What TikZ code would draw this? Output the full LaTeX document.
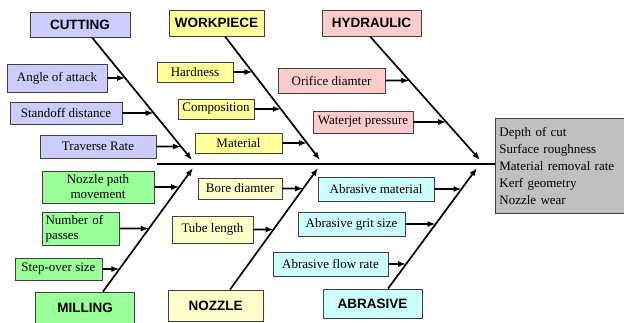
\documentclass[tikz,border=0pt]{standalone}
\usepackage{fontspec}
\setmainfont{Liberation Serif}
\newfontfamily\headfont{Liberation Sans}
\usepackage{xcolor}
\usetikzlibrary{shapes,arrows,arrows.meta,fit,positioning}

\definecolor{cutblue}{HTML}{CCCCFF}
\definecolor{wpyellow}{HTML}{FFFF99}
\definecolor{hydpink}{HTML}{FFCCCC}
\definecolor{milgreen}{HTML}{99FF99}
\definecolor{nozcream}{HTML}{FFFFCC}
\definecolor{abrcyan}{HTML}{CCFFFF}
\definecolor{resgray}{HTML}{C0C0C0}

\begin{document}
\begin{tikzpicture}[x=1pt, y=-1pt,
    % Styles for the fishbone diagram
    cause/.style={rectangle, draw=black!75, line width=0.8pt, font=\headfont\bfseries\fontsize{13.5}{15}\selectfont, minimum width=99pt, minimum height=26pt},
    factor/.style={rectangle, draw=black!75, line width=0.8pt, font=\fontsize{13}{15}\selectfont, inner sep=3pt, minimum height=22pt},
    result/.style={rectangle, draw=black!75, line width=0.8pt, fill=resgray, font=\fontsize{13}{17}\selectfont, text width=126pt, align=left, inner sep=4pt, minimum height=95pt},
    spine/.style={draw, line width=2pt},
    bone/.style={draw, -{Latex[length=8pt,width=6pt]}, line width=1.7pt},
    line/.style={draw, -{Latex[length=8pt,width=6pt]}, line width=1.7pt}]

    \useasboundingbox (0,0) rectangle (624,322);

    % Node: Effect (output quantities)
    \node [result, anchor=west] (result) at (495,166) {Depth of cut\\Surface roughness\\Material removal rate\\Kerf geometry\\Nozzle wear};

    % Spine
    \coordinate (tail) at (157,164);
    \path [spine] (tail) -- (tail -| result.west);

    % Nodes: main causes
    \node [cause, fill=cutblue, minimum width=100pt, minimum height=25pt] (cutting) at (80,24.5) {CUTTING};
    \node [cause, fill=wpyellow, minimum width=95pt] (workpiece) at (216.5,23) {WORKPIECE};
    \node [cause, fill=hydpink] (hydraulic) at (371.5,23) {HYDRAULIC};
    \node [cause, fill=milgreen, minimum height=31pt] (milling) at (85,307.5) {MILLING};
    \node [cause, fill=nozcream, minimum width=95pt, minimum height=31pt] (nozzle) at (215.5,305.5) {NOZZLE};
    \node [cause, fill=abrcyan, minimum height=29pt] (abrasive) at (372.5,303.5) {ABRASIVE};

    % Bones: start under each cause, end at the spine
    \coordinate (cutTop) at ([xshift=12pt]cutting.south);
    \coordinate (wpTop) at ([xshift=8.5pt]workpiece.south);
    \coordinate (hydTop) at ([xshift=-1.5pt]hydraulic.south);
    \coordinate (milTop) at ([xshift=18pt]milling.north);
    \coordinate (nozTop) at ([xshift=14.5pt]nozzle.north);
    \coordinate (abrTop) at ([xshift=15.5pt]abrasive.north);
    \coordinate (cutTip) at (192,160);
    \coordinate (wpTip) at (320,160);
    \coordinate (hydTip) at (480,160);
    \coordinate (milTip) at (193,168);
    \coordinate (nozTip) at (318,168);
    \coordinate (abrTip) at (477,168);
    \foreach \b in {cut, wp, hyd, mil, noz, abr}
        \path [bone] (\b Top) -- (\b Tip);

    % Nodes: cutting factors
    \node [factor, fill=cutblue, minimum width=100pt, minimum height=28pt] (angle) at (57,78) {Angle of attack};
    \node [factor, fill=cutblue, minimum width=112pt] (standoff) at (66,113) {Standoff distance};
    \node [factor, fill=cutblue, minimum width=116pt, minimum height=23pt] (traverse) at (98,146.5) {Traverse Rate};

    % Nodes: milling factors
    \node [factor, fill=milgreen, minimum width=112pt, minimum height=32pt, align=center] (nozpath) at (98,187) {Nozzle path\\movement};
    \node [factor, fill=milgreen, text width=71pt, minimum height=33pt, align=left] (passes) at (81,228.5) {Number of\\passes};
    \node [factor, fill=milgreen, minimum width=87pt] (stepover) at (58.5,269) {Step-over size};

    % Nodes: workpiece factors
    \node [factor, fill=wpyellow, minimum width=76pt, minimum height=20pt] (hardness) at (195,72) {Hardness};
    \node [factor, fill=wpyellow, minimum width=76pt, minimum height=20pt] (composition) at (216,109) {Composition};
    \node [factor, fill=wpyellow, minimum width=87pt, minimum height=20pt] (material) at (238.5,143) {Material};

    % Nodes: nozzle factors
    \node [factor, fill=nozcream, minimum width=84pt, minimum height=21pt] (bore) at (240,188.5) {Bore diamter};
    \node [factor, fill=nozcream, minimum width=81pt, minimum height=27pt] (tube) at (212.5,229.5) {Tube length};

    % Nodes: hydraulic factors
    \node [factor, fill=hydpink, minimum width=107pt, minimum height=25pt] (orifice) at (331.5,80.5) {Orifice diamter};
    \node [factor, fill=hydpink, minimum width=100pt] (waterjet) at (363,122) {Waterjet pressure};

    % Nodes: abrasive factors
    \node [factor, fill=abrcyan, minimum width=116pt, minimum height=24pt] (abrmat) at (376,189) {Abrasive material};
    \node [factor, fill=abrcyan, minimum width=107pt, minimum height=24pt] (grit) at (351.5,224) {Abrasive grit size};
    \node [factor, fill=abrcyan, minimum width=115pt, minimum height=24pt] (flow) at (330.5,264) {Abrasive flow rate};

    % Edges: each factor points onto its bone
    \foreach \f/\b in {angle/cut, standoff/cut, traverse/cut,
                       nozpath/mil, passes/mil, stepover/mil,
                       hardness/wp, composition/wp, material/wp,
                       bore/noz, tube/noz,
                       orifice/hyd, waterjet/hyd,
                       abrmat/abr, grit/abr, flow/abr}
        \path [line] (\f.east) -- (intersection cs: first line={(\b Top)--(\b Tip)}, second line={(\f.east)--(\f.east -| result.east)});

\end{tikzpicture}
\end{document}
